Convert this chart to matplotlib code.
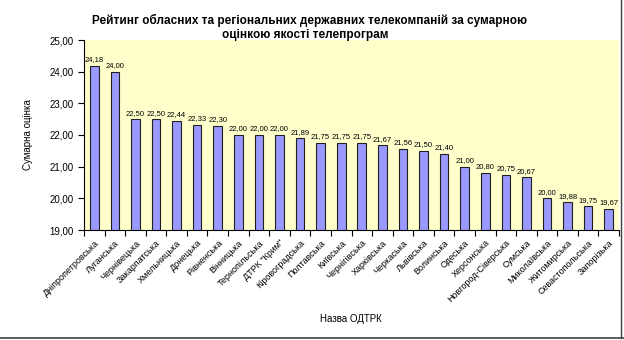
import matplotlib.pyplot as plt
import numpy as np
from matplotlib.lines import Line2D

plt.rcParams['font.family'] = ['Liberation Sans', 'DejaVu Sans']

regions = ["Дніпропетровська", "Луганська", "Чернівецька", "Закарпатська",
           "Хмельницька", "Донецька", "Рівненська", "Вінницька",
           "Тернопільська", "ДТРК \"Крим\"", "Кіровоградська", "Полтавська",
           "Київська", "Чернігівська", "Харківська", "Черкаська", "Львівська",
           "Волинська", "Одеська", "Херсонська", "Новгород-Сіверська",
           "Сумська", "Миколаївська", "Житомирська", "Севастопольська",
           "Запорізька"]
scores = [24.18, 24.00, 22.50, 22.50, 22.44, 22.33, 22.30, 22.00, 22.00, 22.00,
          21.89, 21.75, 21.75, 21.75, 21.67, 21.56, 21.50, 21.40, 21.00, 20.80,
          20.75, 20.67, 20.00, 19.88, 19.75, 19.67]
y_ticks = [19, 20, 21, 22, 23, 24, 25]

fig = plt.figure(figsize=(6.24, 3.4), dpi=100)
ax = fig.add_axes([84/624, 1-230/340, (619-84)/624, (230-40)/340])
ax.set_facecolor('#FFFFCC')

ind = np.arange(len(regions))
ax.bar(ind, scores, width=0.42, bottom=0, color='#9999FF',
       edgecolor='#202020', linewidth=0.8, zorder=2)

for i, v in enumerate(scores):
    ax.text(i, v + 0.08, ("%.2f" % v).replace('.', ','), ha='center',
            va='bottom', fontsize=5.5)

ax.set_xlim(-0.5, len(regions) - 0.5)
ax.set_ylim(19, 25)
ax.set_yticks(y_ticks)
ax.set_yticklabels([("%.2f" % t).replace('.', ',') for t in y_ticks], fontsize=7)

ax.set_xticks(ind)
ax.set_xticklabels(regions, rotation=45, ha='right', rotation_mode='anchor',
                   fontsize=6.5)
ax.set_xticks(np.arange(-0.5, len(regions)), minor=True)
ax.tick_params(axis='x', which='major', length=0, pad=6)
ax.tick_params(axis='x', which='minor', length=4, width=0.8, direction='out')
ax.tick_params(axis='y', length=4, width=0.8, direction='out')

ax.spines['right'].set_visible(False)
ax.spines['top'].set_visible(False)
ax.spines['left'].set_linewidth(0.8)
ax.spines['bottom'].set_linewidth(0.8)

ax.set_ylabel('Сумарна оцінка', fontsize=7, labelpad=12)
fig.text(351/624, 1-322/340, 'Назва ОДТРК', ha='center', fontsize=7)

fig.text(310/624, 1-20/340,
         'Рейтинг обласних та регіональних державних телекомпаній за сумарною',
         ha='center', va='center', fontsize=8.5, fontweight='bold')
fig.text(305/624, 1-35/340, 'оцінкою якості телепрограм',
         ha='center', va='center', fontsize=8.5, fontweight='bold')

# page border pieces visible at the right and bottom
fig.add_artist(Line2D([0, 1], [2/340, 2/340], color='#404040', lw=1.2))
fig.add_artist(Line2D([621/624, 621/624], [2/340, 1], color='#404040', lw=1.0))

plt.savefig('out.png', dpi=100)
